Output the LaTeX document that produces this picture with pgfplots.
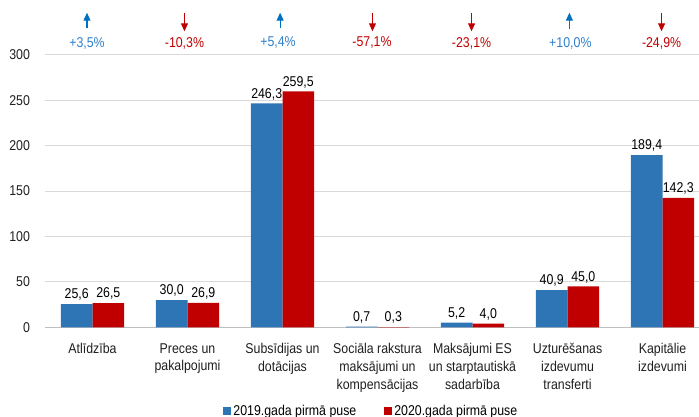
\documentclass[border=0pt]{standalone}
\usepackage{fontspec}
\setmainfont{Liberation Sans}[FakeStretch=0.87]
\usepackage{pgfplots}
\pgfplotsset{compat=1.18}
\usetikzlibrary{arrows.meta}
\definecolor{bblue}{HTML}{2E75B6}
\definecolor{bred}{HTML}{C00000}
\definecolor{ablue}{HTML}{0070C0}
\definecolor{tblue}{HTML}{2E80CC}
\newcommand{\cf}{\fontsize{14.2}{17.8}\selectfont}
\begin{document}
\cf
\begin{tikzpicture}
\begin{axis}[name=ax, scale only axis, width=654pt, height=272.6pt,
  xmin=-0.5, xmax=6.384, ymin=0, ymax=300, enlargelimits=false,
  ytick={0,50,...,300}, xtick={0,...,6},
  xticklabels={Atlīdzība,Preces un\\pakalpojumi,Subsīdijas un\\dotācijas,Sociāla rakstura\\maksājumi un\\kompensācijas,Maksājumi ES\\un starptautiskā\\sadarbība,Uzturēšanas\\izdevumu\\transferti,Kapitālie\\izdevumi},
  xticklabel style={align=center, font=\cf, yshift=-6.8pt, text=black!88},
  yticklabel style={font=\cf, xshift=-8pt, text=black!88},
  /pgf/number format/assume math mode=true,
  axis x line=bottom, axis y line=left,
  x axis line style={draw=black!25, line width=0.8pt, -},
  y axis line style={draw=none},
  major tick style={draw=none},
  ymajorgrids, grid style={draw=black!15, line width=0.8pt},
  ybar=0pt, bar width=31.6pt,
  nodes near coords, every node near coord/.append style={font=\cf, text=black, yshift=-1.5pt, /pgf/number format/.cd, use comma, fixed, fixed zerofill, precision=1, assume math mode=true},
  clip=false,
  legend style={at={(0.499,-0.308)}, anchor=center, draw=none, fill=none, font=\cf, legend columns=2, /tikz/every even column/.append style={column sep=26pt}},
  legend image code/.code={\fill[#1] (0pt,-4pt) rectangle (8pt,4pt);},
]
\addplot[fill=bblue, draw=none] coordinates {(0,25.6) (1,30.0) (2,246.3) (3,0.7) (4,5.2) (5,40.9) (6,189.4)};
\addplot[fill=bred, draw=none] coordinates {(0,26.5) (1,26.9) (2,259.5) (3,0.3) (4,4.0) (5,45.0) (6,142.3)};
\legend{2019.gada pirmā puse,2020.gada pirmā puse}
% change annotations
\node[text=tblue, font=\cf] at (axis cs:-0.058,312.9) {+3,5\%};
\node[text=bred, font=\cf] at (axis cs:0.968,312.9) {-10,3\%};
\node[text=tblue, font=\cf] at (axis cs:1.953,312.9) {+5,4\%};
\node[text=bred, font=\cf] at (axis cs:2.942,312.9) {-57,1\%};
\node[text=bred, font=\cf] at (axis cs:3.99,312.9) {-23,1\%};
\node[text=tblue, font=\cf] at (axis cs:5.03,312.9) {+10,0\%};
\node[text=bred, font=\cf] at (axis cs:5.99,312.9) {-24,9\%};
\draw[ablue, line width=1.1pt, -{Triangle[width=7pt,length=8pt]}] (axis cs:-0.058,329.4) -- (axis cs:-0.058,346.2);
\draw[bred, line width=1.1pt, -{Triangle[width=7pt,length=8pt]}] (axis cs:0.968,345.6) -- (axis cs:0.968,325.8);
\draw[ablue, line width=1.1pt, -{Triangle[width=7pt,length=8pt]}] (axis cs:1.975,329.4) -- (axis cs:1.975,346.2);
\draw[bred, line width=1.1pt, -{Triangle[width=7pt,length=8pt]}] (axis cs:2.947,345.6) -- (axis cs:2.947,325.8);
\draw[bred, line width=1.1pt, -{Triangle[width=7pt,length=8pt]}] (axis cs:3.99,345.6) -- (axis cs:3.99,325.8);
\draw[ablue, line width=1.1pt, -{Triangle[width=7pt,length=8pt]}] (axis cs:5.02,328.6) -- (axis cs:5.02,346.2);
\draw[bred, line width=1.1pt, -{Triangle[width=7pt,length=8pt]}] (axis cs:5.99,345.6) -- (axis cs:5.99,325.8);
\end{axis}
\pgfresetboundingbox
\path[use as bounding box] ([xshift=-45pt,yshift=-89.7pt]ax.south west) rectangle ([yshift=54.7pt]ax.north east);
\end{tikzpicture}
\end{document}
